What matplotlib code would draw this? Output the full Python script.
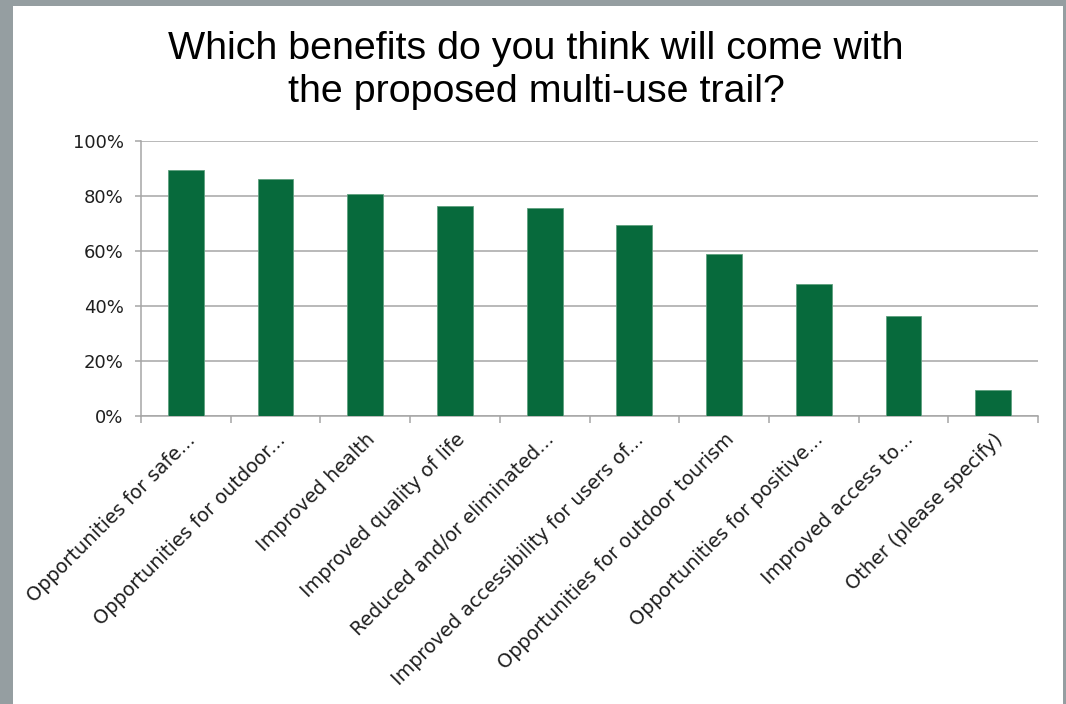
import matplotlib.pyplot as plt
from matplotlib.patches import Rectangle
from matplotlib.ticker import PercentFormatter, FixedLocator

# survey responses, share of respondents
categories = [
    "Opportunities for safe...",
    "Opportunities for outdoor...",
    "Improved health",
    "Improved quality of life",
    "Reduced and/or eliminated...",
    "Improved accessibility for users of...",
    "Opportunities for outdoor tourism",
    "Opportunities for positive...",
    "Improved access to...",
    "Other (please specify)",
]
shares = [89.3, 86.3, 80.8, 76.4, 75.6, 69.6, 58.8, 48.1, 36.4, 9.5]
y_ticks = [0, 20, 40, 60, 80, 100]

title = "Which benefits do you think will come with\nthe proposed multi-use trail?"

W, H = 1066, 704
fig = plt.figure(figsize=(W / 100, H / 100), dpi=100)
fig.patch.set_facecolor('#959ea1')
# white slide panel
fig.add_artist(Rectangle((13 / W, 0), (1063 - 13) / W, (H - 6) / H,
                         transform=fig.transFigure, facecolor='white',
                         edgecolor='none', zorder=0))

ax = fig.add_axes([141 / W, 1 - 416 / H, (1038 - 141) / W, (416 - 141) / H])
ax.set_facecolor('none')

x = list(range(len(categories)))
ax.bar(x, shares, width=0.4, color='#076a3c', edgecolor='#5fa07f',
       linewidth=0.6, zorder=3)

ax.set_xlim(-0.5, len(categories) - 0.5)
ax.set_ylim(0, 100)
ax.yaxis.set_major_locator(FixedLocator(y_ticks))
ax.yaxis.set_major_formatter(PercentFormatter(decimals=0))
ax.grid(axis='y', color='#a6a6a6', linewidth=1.1, zorder=1)

for side in ['top', 'right']:
    ax.spines[side].set_visible(False)
for side in ['left', 'bottom']:
    ax.spines[side].set_color('#a6a6a6')
    ax.spines[side].set_linewidth(1.1)

tick_font = 'DejaVu Sans'
ax.set_xticks(x)
ax.set_xticklabels(categories, rotation=45, ha='right', va='top',
                   rotation_mode='anchor', fontsize=13.9, family=tick_font,
                   color='#1f1f1f')
ax.set_xticks([i - 0.5 for i in range(len(categories) + 1)], minor=True)
ax.tick_params(axis='x', which='major', length=0, pad=10)
ax.tick_params(axis='x', which='minor', length=5, color='#a6a6a6', width=1.1)
ax.tick_params(axis='y', length=4.5, color='#a6a6a6', width=1.1, pad=8,
               labelsize=13, labelcolor='#1f1f1f')
for lbl in ax.get_yticklabels():
    lbl.set_family(tick_font)

fig.text(0.503, 1 - 31 / H, title, ha='center', va='top', fontsize=28.4,
         family='Liberation Sans', color='black', linespacing=1.24)

fig.savefig('out.png', dpi=100, facecolor=fig.get_facecolor())
